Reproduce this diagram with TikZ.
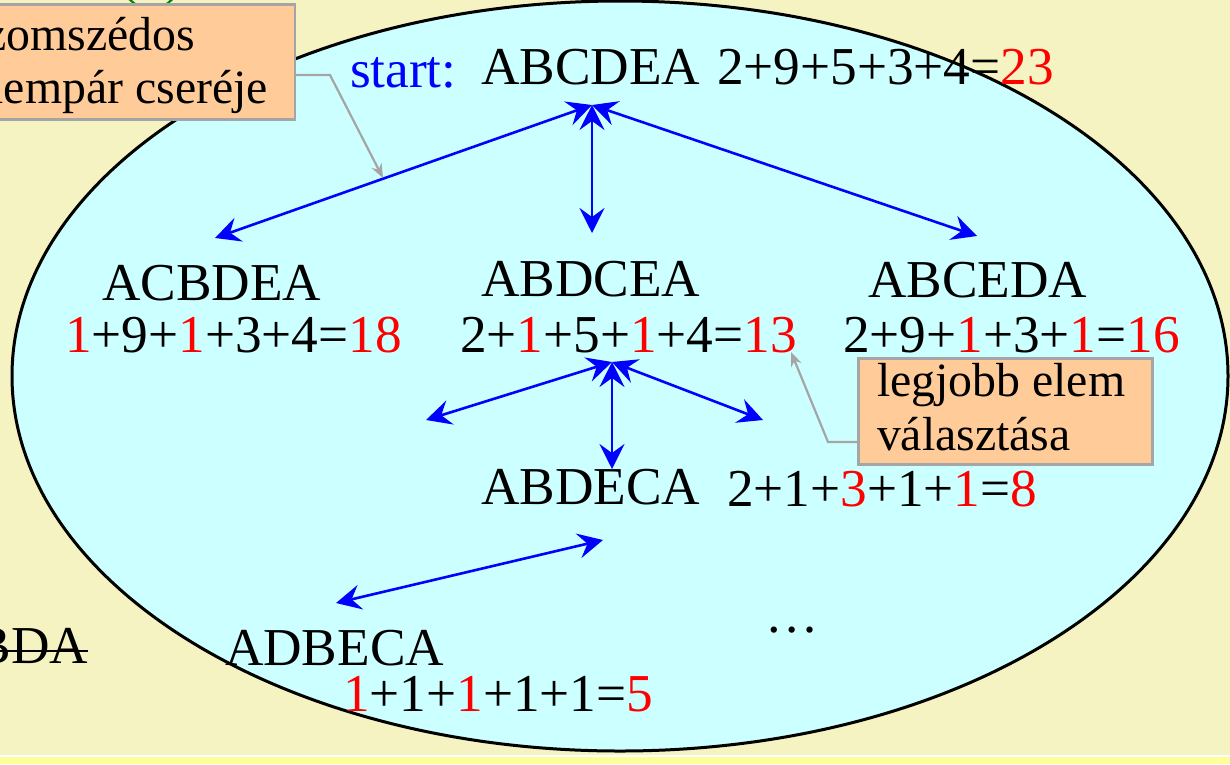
\documentclass[tikz,border=0pt]{standalone}
\usepackage{fontspec}
\setmainfont{Liberation Serif}
\usetikzlibrary{arrows.meta}
\definecolor{bgyellow}{RGB}{245,243,193}
\definecolor{stripyellow}{RGB}{255,255,153}
\definecolor{ellcyan}{RGB}{204,255,255}
\definecolor{boxorange}{RGB}{255,204,153}
\definecolor{boxgrey}{RGB}{165,165,165}
\definecolor{darkgreen}{RGB}{0,128,0}
\newcommand\dfont{\fontsize{53.3}{60}\selectfont}
\newcommand\myboxfont{\fontsize{47.8}{55}\selectfont}
\newcommand\R[1]{\textcolor{red}{#1}}
\tikzset{
  txt/.style={anchor=base west, inner sep=0pt, outer sep=0pt, font=\dfont},
  btxt/.style={anchor=base west, inner sep=0pt, outer sep=0pt, font=\myboxfont},
  biarrow/.style={draw=blue, line width=2.6pt,
    {Stealth[length=25pt,width=25pt,inset=9pt]}-{Stealth[length=25pt,width=25pt,inset=9pt]}},
  callout/.style={draw=boxgrey, line width=2.2pt, -{Stealth[length=14pt,width=11pt]}},
  notebox/.style={fill=boxorange, draw=boxgrey, line width=2.5pt, inner sep=0pt}
}
\begin{document}
\begin{tikzpicture}[x=1pt,y=-1pt]
\useasboundingbox (0,0) rectangle (1230,764);
% background
\fill[bgyellow] (0,0) rectangle (1230,755);
\fill[white] (0,755) rectangle (1230,757);
\fill[stripyellow] (0,757) rectangle (1230,764);
% partial green text at top edge
\node[txt, text=darkgreen] (greenbit) at (120,-6) {(3)};
% big ellipse
\draw[fill=ellcyan, line width=3pt] (620,376) ellipse [x radius=608, y radius=375];
% top-left note box
\node[notebox, minimum width=340pt, minimum height=115pt, anchor=north east] (box1) at (296,3) {};
\node[btxt, anchor=base east] (b1l1) at (195,50) {Szomszédos};
\node[btxt, anchor=base east] (b1l2) at (268,103) {elempár cseréje};
% second note box
\node[notebox, minimum width=294pt, minimum height=106pt, anchor=north west] (box2) at (857,357) {};
\node[btxt] (b2l1) at (877,396) {legjobb elem};
\node[btxt] (b2l2) at (877,450) {választása};
% texts
\node[txt, text=blue] (start) at (350,87) {start:};
\node[txt] (n0) at (481,84) {ABCDEA};
\node[txt] (s0) at (717,84) {2+9+5+3+4=\R{23}};
\node[txt] (n1) at (102,300) {ACBDEA};
\node[txt] (s1) at (65,352) {\R{1}+9+\R{1}+3+4=\R{18}};
\node[txt] (n2) at (481,296) {ABDCEA};
\node[txt] (s2) at (460,352) {2+\R{1}+5+\R{1}+4=\R{13}};
\node[txt] (n3) at (868,297) {ABCEDA};
\node[txt] (s3) at (843,352) {2+9+\R{1}+3+\R{1}=\R{16}};
\node[txt] (n4) at (481,504) {ABDECA};
\node[txt] (s4) at (727,506) {2+1+\R{3}+1+\R{1}=\R{8}};
\node[txt] (n5) at (225,665) {ADBECA};
\node[txt] (s5) at (343,711) {\R{1}+1+\R{1}+1+1=\R{5}};
\node[txt] (dots) at (765,632) {\dots};
\node[txt, anchor=base east] (struck) at (88,663) {BDA};
\draw[line width=2pt] (struck.base west |- 0,651) -- (88,651);
% arrow coordinates
\coordinate (hubA) at (592,105);
\coordinate (tA1) at (215,238);
\coordinate (tA2) at (592,233);
\coordinate (tA3) at (977,236);
\coordinate (hubB) at (612,362);
\coordinate (tB1) at (426,420);
\coordinate (tB2) at (612,469);
\coordinate (tB3) at (763,420);
\coordinate (bA) at (603,540);
\coordinate (bB) at (336,603);
\draw[biarrow] (hubA) -- (tA1);
\draw[biarrow] (hubA) -- (tA2);
\draw[biarrow] (hubA) -- (tA3);
\draw[biarrow] (hubB) -- (tB1);
\draw[biarrow] (hubB) -- (tB2);
\draw[biarrow] (hubB) -- (tB3);
\draw[biarrow] (bA) -- (bB);
% callouts
\coordinate (c1a) at (box1.east |- 0,75);
\coordinate (c1b) at (330,75);
\coordinate (c1t) at (383,178);
\draw[callout] (c1a) -- (c1b) -- (c1t);
\coordinate (c2a) at (box2.west |- 0,442);
\coordinate (c2b) at (828,442);
\coordinate (c2t) at (791,352);
\draw[callout] (c2a) -- (c2b) -- (c2t);
\end{tikzpicture}
\end{document}
